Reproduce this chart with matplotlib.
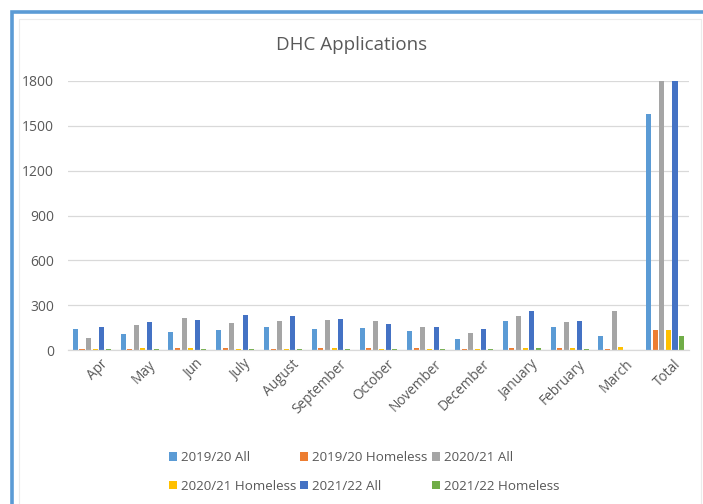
import numpy as np
import matplotlib
matplotlib.use('Agg')
import matplotlib.pyplot as plt
from matplotlib.patches import Rectangle, Patch
import matplotlib.transforms as mtransforms

plt.rcParams['font.family'] = ['Open Sans', 'DejaVu Sans']

months = ['Apr', 'May', 'Jun', 'July', 'August', 'September', 'October',
          'November', 'December', 'January', 'February', 'March']

all_1920 = [141, 105, 118, 134, 154, 141, 147, 125, 74, 192, 154, 96]
hml_1920 = [8, 10, 12, 14, 10, 12, 13, 11, 9, 13, 12, 10]
all_2021 = [82, 170, 214, 179, 192, 201, 192, 154, 112, 230, 185, 259]
hml_2021 = [9, 11, 12, 10, 8, 11, 10, 9, 7, 13, 16, 18]
all_2122 = [154, 185, 199, 236, 230, 205, 176, 154, 141, 259, 192, 0]
hml_2122 = [7, 9, 8, 10, 9, 10, 8, 7, 6, 11, 9, 0]

series_names = ['2019/20 All', '2019/20 Homeless', '2020/21 All',
                '2020/21 Homeless', '2021/22 All', '2021/22 Homeless']
colors = ['#5B9BD5', '#ED7D31', '#A5A5A5', '#FFC000', '#4472C4', '#70AD47']

# last category is the year total for each series
cats = months + ['Total']
series = [np.append(s, np.sum(s)) for s in
          [all_1920, hml_1920, all_2021, hml_2021, all_2122, hml_2122]]

text_col = '#595959'
grid_col = '#D9D9D9'

fig = plt.figure(figsize=(7.03, 5.04), dpi=100)
W, H = 703, 504

# outer frame: blue border running off the right and bottom edges
fig.patches.append(Rectangle((12 / W, -0.05), 1.2, 1 - 12 / H + 0.05,
                             transform=fig.transFigure, fill=False,
                             ec='#5B9BD5', lw=2.6, zorder=0))
fig.patches.append(Rectangle((19 / W, -0.05), (701 - 19) / W, 1 - 19 / H + 0.05,
                             transform=fig.transFigure, fill=False,
                             ec='#EBEBEB', lw=0.8, zorder=0))

ax = fig.add_axes([68 / W, 1 - 350 / H, (689 - 68) / W, (350 - 81) / H])

x = np.arange(len(cats))
step = 0.138
width = 0.105
for i, (vals, name, c) in enumerate(zip(series, series_names, colors)):
    ax.bar(x + (i - 2.5) * step, vals, width=width, color=c, label=name, zorder=2)

ax.set_xlim(-0.5, len(cats) - 0.5)
ax.set_ylim(0, 1800)
ax.set_yticks(np.arange(0, 1801, 300))
ax.grid(axis='y', color=grid_col, lw=0.9, zorder=0)
ax.set_axisbelow(True)
for side in ['left', 'right', 'top']:
    ax.spines[side].set_visible(False)
ax.spines['bottom'].set_color(grid_col)
ax.spines['bottom'].set_linewidth(0.9)

ax.tick_params(axis='y', length=0, pad=10, labelsize=10, labelcolor=text_col)
ax.tick_params(axis='x', length=0, pad=5, labelsize=9.8, labelcolor=text_col)
ax.set_xticks(x)
ax.set_xticklabels(cats, rotation=45, ha='right', rotation_mode='anchor')
offset = mtransforms.ScaledTranslation(6 / 72, 0, fig.dpi_scale_trans)
for lab in ax.get_xticklabels():
    lab.set_transform(lab.get_transform() + offset)

fig.text(0.5, 1 - 45 / H, 'DHC Applications', ha='center', va='center',
         fontsize=13.5, color=text_col)

# legend rows: matplotlib fills columns first, so interleave the entries
handles = [Patch(facecolor=c, edgecolor='none') for c in colors]
order = [0, 3, 1, 4, 2, 5]
fig.legend([handles[i] for i in order], [series_names[i] for i in order],
           ncol=3, loc='center', bbox_to_anchor=(364 / W, 1 - 472 / H),
           frameon=False, fontsize=9.6, labelcolor=text_col,
           handlelength=0.6, handleheight=0.6, handletextpad=0.3,
           columnspacing=0.3, labelspacing=1.15)

fig.savefig('out.png', dpi=100)
